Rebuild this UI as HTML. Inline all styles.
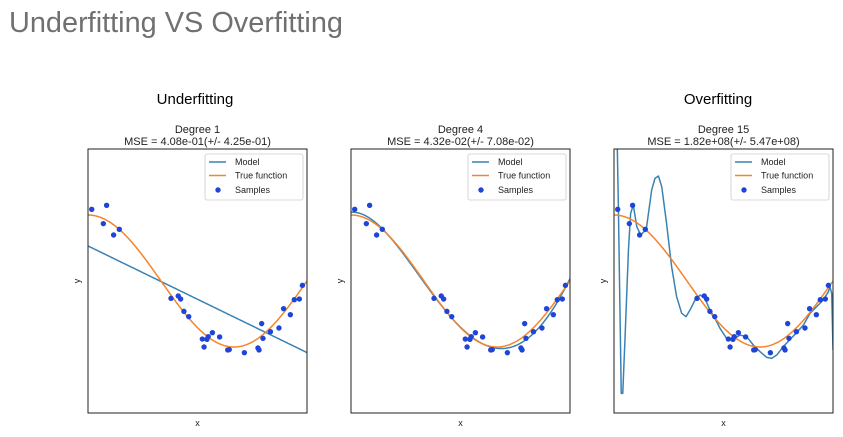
<!DOCTYPE html>
<html><head><meta charset="utf-8"><style>
html,body{margin:0;padding:0;background:#fff;}
svg{display:block;font-family:"Liberation Sans","DejaVu Sans",sans-serif;}
</style></head><body>
<svg id="chart" width="843" height="437" viewBox="0 0 843 437">
<text x="9" y="32" font-size="29" fill="#707070" textLength="334" lengthAdjust="spacingAndGlyphs">Underfitting VS Overfitting</text>
<text x="195" y="104" font-size="15" text-anchor="middle" fill="#000">Underfitting</text>
<text x="718" y="104" font-size="15" text-anchor="middle" fill="#000">Overfitting</text>
<g id="plots"></g>
</svg>
<script>
const sampleX=[0.017,0.085,0.070,0.117,0.143,0.379,0.412,0.423,0.438,0.460,0.522,0.530,0.543,0.549,0.568,0.601,0.638,0.645,0.714,0.776,0.781,0.793,0.799,0.833,0.872,0.893,0.924,0.942,0.965,0.979];
const sampleY=[1.086,1.147,0.869,0.697,0.783,-0.263,-0.227,-0.273,-0.46,-0.54,-0.879,-1.0,-0.884,-0.843,-0.783,-0.848,-1.045,-1.04,-1.086,-1.015,-1.045,-0.646,-0.869,-0.768,-0.712,-0.419,-0.51,-0.283,-0.273,-0.066];
const degrees=[1,4,15];
const mseLabels=["MSE = 4.08e-01(+/- 4.25e-01)","MSE = 4.32e-02(+/- 7.08e-02)","MSE = 1.82e+08(+/- 5.47e+08)"];
const model15X=[0.012,0.015,0.020,0.027,0.033,0.040,0.050,0.066,0.076,0.088,0.104,0.122,0.137,0.149,0.172,0.187,0.203,0.218,0.240,0.263,0.286,0.309,0.329,0.347,0.370,0.393,0.415,0.438,0.461,0.484,0.514,0.545,0.575,0.606,0.636,0.667,0.697,0.720,0.743,0.773,0.804,0.834,0.865,0.895,0.925,0.956,0.979,0.986,0.994,1.0];
const model15Y=[2.6,2.035,1.126,-0.389,-1.702,-1.702,-0.894,0.469,1.025,1.151,0.823,0.697,0.747,0.823,1.378,1.555,1.591,1.429,0.873,0.217,-0.238,-0.490,-0.541,-0.440,-0.288,-0.212,-0.263,-0.440,-0.566,-0.717,-0.869,-0.884,-0.819,-0.844,-0.970,-1.071,-1.157,-1.172,-1.122,-0.995,-0.884,-0.783,-0.667,-0.490,-0.389,-0.288,-0.162,-0.086,-0.187,-1.046];
const panelLefts=[88,351,614];
const PW=219,PT=149,PH=264;
const NS="http://www.w3.org/2000/svg";
function trueFun(x){return Math.cos(1.5*Math.PI*x);}
function polyfit(xs,ys,d){
  const n=d+1,A=[],b=[];
  for(let i=0;i<n;i++){A.push(new Array(n).fill(0));b.push(0);}
  for(let k=0;k<xs.length;k++){for(let i=0;i<n;i++){b[i]+=Math.pow(xs[k],i)*ys[k];for(let j=0;j<n;j++)A[i][j]+=Math.pow(xs[k],i+j);}}
  for(let i=0;i<n;i++){let p=i;for(let r=i+1;r<n;r++)if(Math.abs(A[r][i])>Math.abs(A[p][i]))p=r;[A[i],A[p]]=[A[p],A[i]];[b[i],b[p]]=[b[p],b[i]];
    for(let r=i+1;r<n;r++){const f=A[r][i]/A[i][i];for(let c=i;c<n;c++)A[r][c]-=f*A[i][c];b[r]-=f*b[i];}}
  const c=new Array(n).fill(0);
  for(let i=n-1;i>=0;i--){let s=b[i];for(let j=i+1;j<n;j++)s-=A[i][j]*c[j];c[i]=s/A[i][i];}
  return c;
}
function mk(tag,attrs,parent){const e=document.createElementNS(NS,tag);for(const k in attrs)e.setAttribute(k,attrs[k]);parent.appendChild(e);return e;}
const root=document.getElementById('plots');
degrees.forEach((deg,pi)=>{
  const L=panelLefts[pi];
  const sx=x=>L+x*PW, sy=y=>PT+(2-y)/4*PH;
  const g=mk('g',{},root);
  
  
  const cp=mk('clipPath',{id:'clip'+pi},g);
  mk('rect',{x:L,y:PT,width:PW,height:PH},cp);
  const t1=mk('text',{x:L+PW/2,y:133,'font-size':11,'text-anchor':'middle',fill:'#222'},g);t1.textContent='Degree '+deg;
  
  
  const t2=mk('text',{x:L+PW/2,y:145,'font-size':11,'text-anchor':'middle',fill:'#222'},g);t2.textContent=mseLabels[pi];
  
  
  const xl=mk('text',{x:L+PW/2,y:426,'font-size':9,'text-anchor':'middle',fill:'#222'},g);xl.textContent='x';
  
  
  const yl=mk('text',{x:L-8,y:PT+PH/2,'font-size':9,'text-anchor':'middle',fill:'#222',transform:`rotate(-90 ${L-8} ${PT+PH/2})`},g);yl.textContent='y';
  
  
  const cg=mk('g',{'clip-path':`url(#clip${pi})`},g);
  // model
  let mp='';
  if(deg<=4){const c=polyfit(sampleX,sampleY,deg);for(let i=0;i<=200;i++){const x=i/200;let y=0;for(let k=0;k<c.length;k++)y+=c[k]*Math.pow(x,k);mp+=(i?'L':'M')+sx(x).toFixed(2)+','+sy(y).toFixed(2);}}
  else{model15X.forEach((x,i)=>{mp+=(i?'L':'M')+sx(x).toFixed(2)+','+sy(model15Y[i]).toFixed(2);});}
  const ml=mk('path',{d:mp,fill:'none',stroke:'#3b82b4','stroke-width':1.5,'stroke-linejoin':'round'},cg);
  
  
  let tp='';for(let i=0;i<=200;i++){const x=i/200;tp+=(i?'L':'M')+sx(x).toFixed(2)+','+sy(trueFun(x)).toFixed(2);}
  const tl=mk('path',{d:tp,fill:'none',stroke:'#f5842a','stroke-width':1.5},cg);
  
  
  sampleX.forEach((x,i)=>{const c=mk('circle',{cx:sx(x),cy:sy(sampleY[i]),r:2.7,fill:'#1f45d8'},cg);
    
    });
  const fr=mk('rect',{x:L,y:PT,width:PW,height:PH,fill:'none',stroke:'#222','stroke-width':1},g);
  
  
  // legend
  const lg=mk('g',{},g);
  
  
  const lx=L+PW-102;
  mk('rect',{x:lx,y:154,width:98,height:46,rx:2,fill:'#fff',stroke:'#ccc','stroke-width':0.8},lg);
  mk('line',{x1:lx+4,y1:162,x2:lx+21,y2:162,stroke:'#3b82b4','stroke-width':1.5},lg);
  mk('line',{x1:lx+4,y1:175.5,x2:lx+21,y2:175.5,stroke:'#f5842a','stroke-width':1.5},lg);
  mk('circle',{cx:lx+13,cy:190,r:2.7,fill:'#1f45d8'},lg);
  [['Model',165],['True function',178.5],['Samples',193]].forEach(([s,y])=>{const t=mk('text',{x:lx+30,y:y,'font-size':9,fill:'#222'},lg);t.textContent=s;
    
    });
});
</script>
</body></html>
